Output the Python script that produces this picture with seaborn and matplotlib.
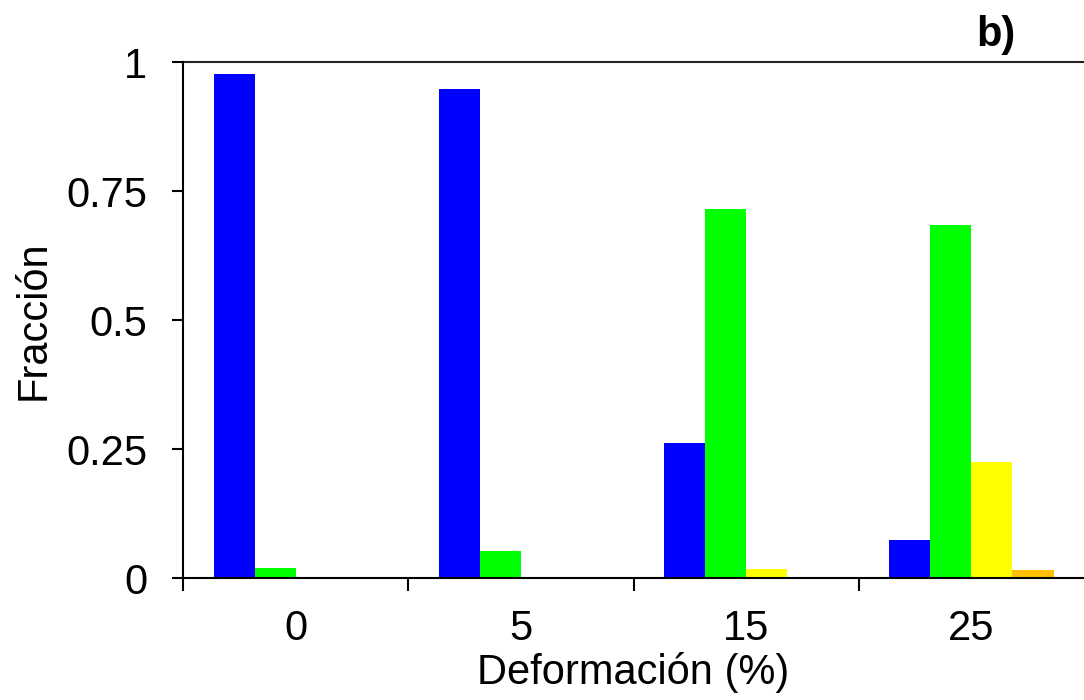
import pandas as pd
import matplotlib.pyplot as plt
import seaborn as sns

# Data
deformacion = ['0', '5', '15', '25']
fase_azul = [0.978, 0.948, 0.262, 0.074]
fase_verde = [0.020, 0.052, 0.715, 0.684]
fase_amarilla = [0.0, 0.002, 0.017, 0.225]
fase_naranja = [0.0, 0.0, 0.002, 0.016]

series = ['azul', 'verde', 'amarilla', 'naranja']
colores = ['#0000FF', '#00FF00', '#FFFF00', '#FFC000']

rows = []
for name, vals in zip(series, [fase_azul, fase_verde, fase_amarilla, fase_naranja]):
    for d, v in zip(deformacion, vals):
        rows.append({'Deformación': d, 'Fase': name, 'Fracción': v})
df = pd.DataFrame(rows)

sns.set_style('white')
plt.rcParams['font.family'] = ['Liberation Sans', 'DejaVu Sans']
plt.rcParams['text.color'] = 'black'
plt.rcParams['axes.labelcolor'] = 'black'
plt.rcParams['xtick.color'] = 'black'
plt.rcParams['ytick.color'] = 'black'

fig = plt.figure(figsize=(10.84, 7.0), dpi=100)
ax = fig.add_axes([0.169, 0.174, 0.831, 0.737])

sns.barplot(data=df, x='Deformación', y='Fracción', hue='Fase', order=deformacion,
            hue_order=series, palette=colores, width=0.73, linewidth=0,
            saturation=1, legend=False, ax=ax)

ax.set_xlim(-0.5, 3.5)
ax.set_ylim(0, 1)
ax.set_yticks([0, 0.25, 0.5, 0.75, 1])
ax.set_yticklabels(['0', '0.25', '0.5', '0.75', '1'])
ax.set_xticks([-0.5, 0.5, 1.5, 2.5], minor=True)

ax.axhline(1, color='#222222', linewidth=1.5, clip_on=False)

for side in ['top', 'right']:
    ax.spines[side].set_visible(False)
for side in ['left', 'bottom']:
    ax.spines[side].set_color('black')
    ax.spines[side].set_linewidth(1.5)

ax.tick_params(axis='y', direction='out', length=8, width=1.5, pad=18,
               labelsize=30, left=True, colors='black')
ax.tick_params(axis='x', which='major', length=0, pad=22, labelsize=30, colors='black')
ax.tick_params(axis='x', which='minor', direction='out', length=9, width=1.5,
               bottom=True, color='black')

ax.set_xlabel('Deformación (%)', fontsize=30, labelpad=2, color='black')
ax.set_ylabel('Fracción', fontsize=30, labelpad=9, color='black')

fig.text(0.919, 0.95, 'b)', fontsize=30, fontweight='bold', ha='center', va='center',
         color='black')

plt.savefig('out.png', dpi=100)
plt.close()
